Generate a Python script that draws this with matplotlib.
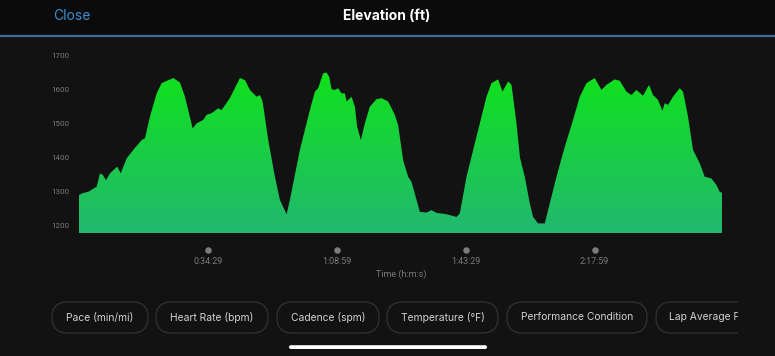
import matplotlib
matplotlib.use("Agg")
import matplotlib.pyplot as plt
import numpy as np
from matplotlib.patches import FancyBboxPatch, PathPatch
from matplotlib.path import Path
from matplotlib.transforms import blended_transform_factory

plt.rcParams['font.family'] = ['Inter', 'DejaVu Sans']

# elapsed time (minutes) and elevation (ft)
time_min = [0, 0.72, 2.49, 4.73, 5.62, 6.34, 7.22, 8.29, 10.24, 11.15, 12.76, 14.52,
            16.77, 17.65, 18.99, 20.78, 22.12, 25.22, 27.01, 28.35, 30.41, 31.48,
            33.24, 34.15, 35.49, 37.25, 38.16, 40.38, 43.06, 44.40, 45.73, 47.52,
            48.41, 49.13, 50.63, 52.42, 53.76, 55.55, 56.43, 59.11, 61.78, 63.12,
            64.00, 65.34, 66.24, 66.94, 67.58, 68.46, 69.35, 70.26, 71.14, 71.60,
            72.93, 73.81, 74.43, 75.42, 76.49, 77.83, 79.62, 80.95, 82.72, 84.51,
            85.39, 86.73, 88.07, 88.98, 91.20, 92.99, 94.33, 95.66, 98.34, 101.01,
            101.89, 103.69, 106.36, 109.04, 110.37, 112.14, 113.32, 114.81, 115.72,
            117.06, 118.0, 119.28, 120.62, 121.50, 122.84, 124.63, 125.97, 127.76,
            129.98, 132.20, 133.99, 135.78, 138.00, 139.79, 141.13, 143.35, 144.69,
            146.48, 147.82, 149.15, 150.92, 152.52, 153.59, 154.93, 156.11, 156.72,
            157.61, 158.94, 160.73, 161.62, 162.95, 164.29, 166.08, 167.42, 169.21,
            170.55, 171.43, 172.05]
elev_ft = [1290, 1295, 1300, 1315, 1354, 1350, 1334, 1354, 1374, 1354, 1398, 1423,
           1452, 1457, 1521, 1589, 1619, 1634, 1621, 1579, 1486, 1501,
           1511, 1526, 1531, 1545, 1540, 1575, 1634, 1628, 1599, 1579,
           1584, 1565, 1452, 1344, 1276, 1234, 1276, 1423, 1540, 1594,
           1604, 1648, 1650, 1638, 1601, 1599, 1604, 1589, 1589, 1565,
           1579, 1550, 1491, 1452, 1501, 1550, 1572, 1575, 1565, 1526,
           1496, 1393, 1344, 1329, 1241, 1239, 1246, 1238, 1234, 1226,
           1236, 1344, 1462, 1579, 1619, 1630, 1594, 1624, 1614,
           1501, 1400, 1344, 1266, 1226, 1207, 1207, 1266, 1344,
           1432, 1511, 1579, 1619, 1634, 1599, 1614, 1630, 1626,
           1594, 1584, 1599, 1582, 1614, 1584, 1570, 1538, 1560,
           1555, 1579, 1604, 1594, 1521, 1423, 1384, 1344, 1339,
           1320, 1300, 1297]

y_ticks = [1200, 1300, 1400, 1500, 1600, 1700]
x_tick_min = [34.48, 68.98, 103.48, 137.98]
x_tick_labels = ["0:34:29", "1:08:59", "1:43:29", "2:17:59"]
buttons = ["Pace (min/mi)", "Heart Rate (bpm)", "Cadence (spm)",
           "Temperature (°F)", "Performance Condition", "Lap Average F"]

BG = "#121212"
W, H = 775, 356
fig = plt.figure(figsize=(W / 100, H / 100), dpi=100, facecolor=BG)

# header
hdr = fig.add_axes([0, 1 - 35 / H, 1, 35 / H])
hdr.set_axis_off()
hdr.add_patch(plt.Rectangle((0, 0), 1, 1, transform=hdr.transAxes, color="#0b0b0b"))
fig.add_artist(plt.Line2D([0, 1], [1 - 35.5 / H, 1 - 35.5 / H], color="#3c6e98", lw=1.6))
fig.text(72 / W, 1 - 16 / H, "Close", color="#3d8ed0", fontsize=10, ha="center", va="center")
fig.text(387 / W, 1 - 16 / H, "Elevation (ft)", color="white", fontsize=10,
         fontweight="bold", ha="center", va="center")

# chart axes
top_px, bot_px = 45, 233.3
ax = fig.add_axes([79 / W, 1 - bot_px / H, 643 / W, (bot_px - top_px) / H])
ax.set_facecolor(BG)
ymin, ymax = 1178, 1731
for s in ax.spines.values():
    s.set_visible(False)

t = np.array(time_min)
e = np.array(elev_ft)
verts = [(t[0], ymin)] + list(zip(t, e)) + [(t[-1], ymin)]
poly = Path(verts, closed=False)
patch = PathPatch(poly, facecolor="none", edgecolor="none", transform=ax.transData)
ax.add_patch(patch)

top_c = np.array([16, 226, 26]) / 255
bot_c = np.array([34, 184, 112]) / 255
n = 256
frac = np.linspace(0, 1, n)[:, None]
grad = bot_c[None, :] * (1 - frac) + top_c[None, :] * frac
img = np.repeat(grad[:, None, :], 2, axis=1)
im = ax.imshow(img, extent=[0, 172.05, ymin, 1655], origin="lower",
               aspect="auto", interpolation="bilinear", zorder=2)
im.set_clip_path(patch)
ax.set_xlim(0, 172.05)
ax.set_ylim(ymin, ymax)

ax.set_yticks(y_ticks)
ax.set_yticklabels([str(v) for v in y_ticks], family=["Roboto", "DejaVu Sans"])
ax.tick_params(axis="y", length=0, pad=7, labelsize=5.8, labelcolor="#7a7a7a")
ax.set_xticks([])

tr = blended_transform_factory(ax.transData, ax.transAxes)
ax.scatter(x_tick_min, [-0.089] * 4, s=22, color="#7c7c7c", transform=tr,
           clip_on=False, zorder=3, linewidths=0)
for xv, lab in zip(x_tick_min, x_tick_labels):
    ax.text(xv, -0.152, lab, transform=tr, ha="center", va="center",
            fontsize=6.4, color="#7a7a7a", family=["Roboto", "DejaVu Sans"])
ax.text(0.5 * (x_tick_min[1] + x_tick_min[2]), -0.216, "Time (h:m:s)", transform=tr,
        ha="center", va="center", fontsize=6.5, color="#7a7a7a",
        family=["Roboto", "DejaVu Sans"])

# bottom pill buttons (pixel coordinates, y measured upward)
bax = fig.add_axes([0, 0, 1, 1], facecolor="none")
bax.set_xlim(0, W)
bax.set_ylim(0, H)
bax.set_axis_off()
pills = [(52, 148), (156, 268), (277, 379), (387, 498), (507, 647), (656, 770)]
ytop, ybot = 302, 333
for (x0, x1), lab in zip(pills, buttons):
    p = FancyBboxPatch((x0, H - ybot), (x1 - x0), ybot - ytop,
                       boxstyle="round,pad=0,rounding_size=15.5",
                       facecolor=BG, edgecolor="#2f2f2f", lw=1.0)
    bax.add_patch(p)
    yc = H - (ytop + ybot) / 2
    if lab == "Lap Average F":
        bax.text(669, yc, lab, color="#d2d2d2", fontsize=7.4, ha="left", va="center")
    else:
        bax.text((x0 + x1) / 2, yc, lab, color="#d2d2d2", fontsize=7.4,
                 ha="center", va="center")
bax.add_patch(plt.Rectangle((738, H - 340), 40, 45, color=BG, zorder=5))
bax.add_patch(FancyBboxPatch((289, H - 349), 198, 3.8,
                             boxstyle="round,pad=0,rounding_size=1.9",
                             facecolor="white", edgecolor="none"))

fig.savefig("out.png", dpi=100, facecolor=BG)
